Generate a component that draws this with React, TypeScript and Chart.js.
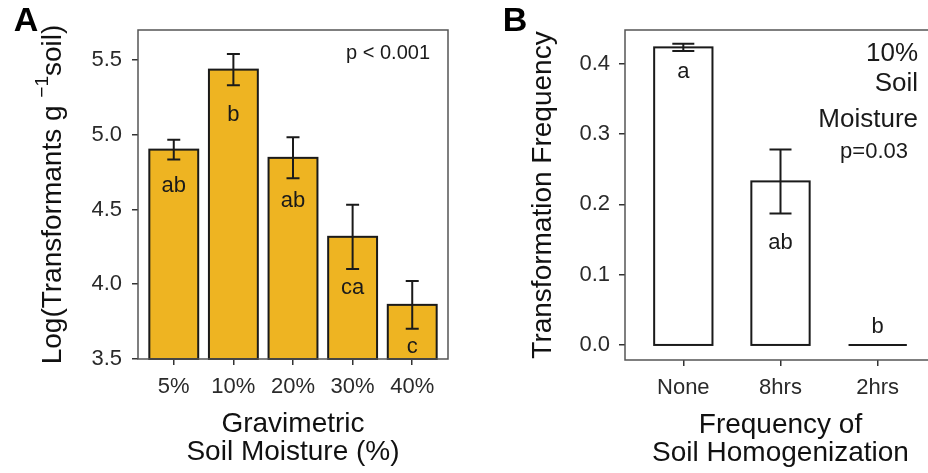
import React, { useEffect, useRef } from "react";
import { Chart, registerables } from "chart.js";
Chart.register(...registerables);

// ---------- Panel A data ----------
const moistureLabels = ["5%", "10%", "20%", "30%", "40%"];
const moistureMeans = [4.9, 5.435, 4.845, 4.317, 3.862];
const moistureSE = [0.066, 0.105, 0.137, 0.215, 0.16];
const moistureLetters = ["ab", "b", "ab", "ca", "c"];
const moistureLetterY = [4.66, 5.13, 4.555, 3.975, 3.58];
const moistureTicks = [3.5, 4.0, 4.5, 5.0, 5.5];

// ---------- Panel B data ----------
const homogLabels = ["None", "8hrs", "2hrs"];
const homogMeans = [0.423, 0.2325, 0];
const homogSE = [0.0053, 0.0455, 0];
const homogLetters = ["a", "ab", "b"];
const homogLetterY = [0.388, 0.145, 0.026];
const homogTicks = [0, 0.1, 0.2, 0.3, 0.4];

const FAMILY = '"Liberation Sans", Arial, Helvetica, sans-serif';
const INK = "#1a1a1a";

type PanelCfg = {
  width: number;
  height: number;
  labels: string[];
  means: number[];
  se: number[];
  letters: string[];
  letterY: number[];
  ticks: number[];
  yMin: number;
  yMax: number;
  base: number;
  fill: string;
  barPct: number;
  capHalf: number;
  area: { left: number; right: number; top: number; bottom: number };
  yTickPad: number;
  draw: (ctx: CanvasRenderingContext2D, chart: any) => void;
};

function makePlugin(cfg: PanelCfg) {
  return {
    id: "annot",
    afterDatasetsDraw(chart: any) {
      const ctx: CanvasRenderingContext2D = chart.ctx;
      const meta = chart.getDatasetMeta(0);
      const ys = chart.scales.y;
      const basePx = ys.getPixelForValue(cfg.base);
      ctx.save();
      // bar outlines
      ctx.strokeStyle = INK;
      ctx.lineWidth = 2;
      meta.data.forEach((bar: any) => {
        const w = bar.width;
        ctx.strokeRect(bar.x - w / 2, bar.y, w, basePx - bar.y);
      });
      // error bars
      meta.data.forEach((bar: any, i: number) => {
        const hi = ys.getPixelForValue(cfg.means[i] + cfg.se[i]);
        const lo = ys.getPixelForValue(cfg.means[i] - cfg.se[i]);
        if (cfg.se[i] <= 0) return;
        ctx.beginPath();
        ctx.moveTo(bar.x, hi);
        ctx.lineTo(bar.x, lo);
        ctx.moveTo(bar.x - cfg.capHalf, hi);
        ctx.lineTo(bar.x + cfg.capHalf, hi);
        ctx.moveTo(bar.x - cfg.capHalf, lo);
        ctx.lineTo(bar.x + cfg.capHalf, lo);
        ctx.stroke();
      });
      // letters
      ctx.fillStyle = INK;
      ctx.font = `22px ${FAMILY}`;
      ctx.textAlign = "center";
      ctx.textBaseline = "middle";
      meta.data.forEach((bar: any, i: number) => {
        ctx.fillText(cfg.letters[i], bar.x, ys.getPixelForValue(cfg.letterY[i]));
      });
      // panel border
      const a = chart.chartArea;
      ctx.strokeStyle = "#555";
      ctx.lineWidth = 1.5;
      ctx.strokeRect(a.left, a.top, a.right - a.left, a.bottom - a.top);
      ctx.restore();
    },
    afterDraw(chart: any) {
      const ctx: CanvasRenderingContext2D = chart.ctx;
      ctx.save();
      cfg.draw(ctx, chart);
      ctx.restore();
    },
  };
}

function buildConfig(cfg: PanelCfg): any {
  const a = cfg.area;
  const tickFont = { family: FAMILY, size: 22 };
  return {
    type: "bar",
    data: {
      datasets: [
        {
          data: cfg.means.map((v, i) => ({ x: i + 1, y: v })),
          backgroundColor: cfg.fill,
          borderWidth: 0,
          categoryPercentage: 1,
          barPercentage: cfg.barPct,
        },
      ],
    },
    options: {
      responsive: false,
      animation: false,
      events: [],
      layout: { padding: { top: a.top, right: cfg.width - a.right, left: 0, bottom: 0 } },
      plugins: {
        legend: { display: false },
        tooltip: { enabled: false },
        title: { display: false },
      },
      scales: {
        x: {
          type: "linear",
          min: 0.4,
          max: cfg.labels.length + 0.6,
          offset: false,
          afterBuildTicks: (s: any) => {
            s.ticks = cfg.labels.map((_, i) => ({ value: i + 1 }));
          },
          afterFit: (s: any) => {
            s.height = cfg.height - a.bottom;
          },
          ticks: {
            callback: (v: any) => cfg.labels[Math.round(v) - 1] ?? "",
            font: tickFont,
            color: "#2a2a2a",
            padding: 9,
            autoSkip: false,
            maxRotation: 0,
          },
          grid: { offset: false, drawOnChartArea: false, tickLength: 6, color: "#333", lineWidth: 1.5 },
          border: { display: false },
        },
        y: {
          type: "linear",
          min: cfg.yMin,
          max: cfg.yMax,
          afterBuildTicks: (s: any) => {
            s.ticks = cfg.ticks.map((v) => ({ value: v }));
          },
          afterFit: (s: any) => {
            s.width = a.left;
          },
          ticks: {
            callback: (v: any) => Number(v).toFixed(1),
            font: tickFont,
            color: "#2a2a2a",
            padding: cfg.yTickPad,
          },
          grid: { drawOnChartArea: false, tickLength: 6, color: "#333", lineWidth: 1.5 },
          border: { display: false },
        },
      },
    },
    plugins: [makePlugin(cfg)],
  };
}

function xTitle(ctx: CanvasRenderingContext2D, chart: any, lines: string[], ys: number[]) {
  const a = chart.chartArea;
  const cx = (a.left + a.right) / 2;
  ctx.fillStyle = "#111";
  ctx.font = `28px ${FAMILY}`;
  ctx.textAlign = "center";
  ctx.textBaseline = "middle";
  lines.forEach((t, i) => ctx.fillText(t, cx, ys[i]));
}

function panelLetter(ctx: CanvasRenderingContext2D, t: string, x: number, y: number) {
  ctx.fillStyle = "#000";
  ctx.font = `bold 34px ${FAMILY}`;
  ctx.textAlign = "center";
  ctx.textBaseline = "middle";
  ctx.fillText(t, x, y);
}

const panelA: PanelCfg = {
  width: 460,
  height: 473,
  labels: moistureLabels,
  means: moistureMeans,
  se: moistureSE,
  letters: moistureLetters,
  letterY: moistureLetterY,
  ticks: moistureTicks,
  yMin: 3.5,
  yMax: 5.7,
  base: 3.5,
  fill: "#EEB422",
  barPct: 0.82,
  capHalf: 6.5,
  area: { left: 138, right: 448, top: 30, bottom: 359 },
  yTickPad: 10,
  draw: (ctx, chart) => {
    panelLetter(ctx, "A", 26, 22);
    xTitle(ctx, chart, ["Gravimetric", "Soil Moisture (%)"], [424, 452]);
    // p-value
    ctx.fillStyle = INK;
    ctx.font = `20px ${FAMILY}`;
    ctx.textAlign = "right";
    ctx.textBaseline = "middle";
    ctx.fillText("p < 0.001", 430, 53);
    // y title with superscript
    const a = chart.chartArea;
    const cy = (a.top + a.bottom) / 2;
    ctx.save();
    ctx.translate(53, cy);
    ctx.rotate(-Math.PI / 2);
    ctx.fillStyle = "#111";
    ctx.textAlign = "left";
    ctx.textBaseline = "middle";
    const main = `28px ${FAMILY}`;
    const sup = `19px ${FAMILY}`;
    const p1 = "Log(Transformants g ";
    const p2 = "\u22121";
    const p3 = "soil)";
    ctx.font = main;
    const w1 = ctx.measureText(p1).width;
    const w3 = ctx.measureText(p3).width;
    ctx.font = sup;
    const w2 = ctx.measureText(p2).width;
    let x = -(w1 + w2 + w3) / 2;
    ctx.font = main;
    ctx.fillText(p1, x, 0);
    x += w1;
    ctx.font = sup;
    ctx.fillText(p2, x, -10);
    x += w2;
    ctx.font = main;
    ctx.fillText(p3, x, 0);
    ctx.restore();
  },
};

const panelB: PanelCfg = {
  width: 480,
  height: 473,
  labels: homogLabels,
  means: homogMeans,
  se: homogSE,
  letters: homogLetters,
  letterY: homogLetterY,
  ticks: homogTicks,
  yMin: -0.0214,
  yMax: 0.4477,
  base: 0,
  fill: "#ffffff",
  barPct: 0.6,
  capHalf: 11,
  area: { left: 165, right: 476, top: 30, bottom: 360 },
  yTickPad: 9,
  draw: (ctx, chart) => {
    panelLetter(ctx, "B", 55, 22);
    xTitle(ctx, chart, ["Frequency of", "Soil Homogenization"], [425, 453]);
    ctx.fillStyle = INK;
    ctx.textAlign = "right";
    ctx.textBaseline = "middle";
    ctx.font = `26px ${FAMILY}`;
    ctx.fillText("10%", 458, 54);
    ctx.fillText("Soil", 458, 84);
    ctx.fillText("Moisture", 458, 120);
    ctx.font = `22px ${FAMILY}`;
    ctx.fillText("p=0.03", 448, 152);
    // y title
    const a = chart.chartArea;
    const cy = (a.top + a.bottom) / 2;
    ctx.save();
    ctx.translate(83, cy);
    ctx.rotate(-Math.PI / 2);
    ctx.fillStyle = "#111";
    ctx.font = `28px ${FAMILY}`;
    ctx.textAlign = "center";
    ctx.textBaseline = "middle";
    ctx.fillText("Transformation Frequency", 0, 0);
    ctx.restore();
  },
};

function Panel({ cfg, left }: { cfg: PanelCfg; left: number }) {
  const ref = useRef<HTMLCanvasElement | null>(null);
  useEffect(() => {
    if (!ref.current) return;
    const chart = new Chart(ref.current, buildConfig(cfg));
    return () => chart.destroy();
  }, [cfg]);
  return (
    <canvas
      ref={ref}
      width={cfg.width}
      height={cfg.height}
      style={{ position: "absolute", left, top: 0, width: cfg.width, height: cfg.height }}
    />
  );
}

export default function App() {
  return (
    <div
      style={{
        position: "fixed",
        left: 0,
        top: 0,
        width: 928,
        height: 473,
        overflow: "hidden",
        background: "#fff",
      }}
    >
      <Panel cfg={panelA} left={0} />
      <Panel cfg={panelB} left={460} />
    </div>
  );
}
